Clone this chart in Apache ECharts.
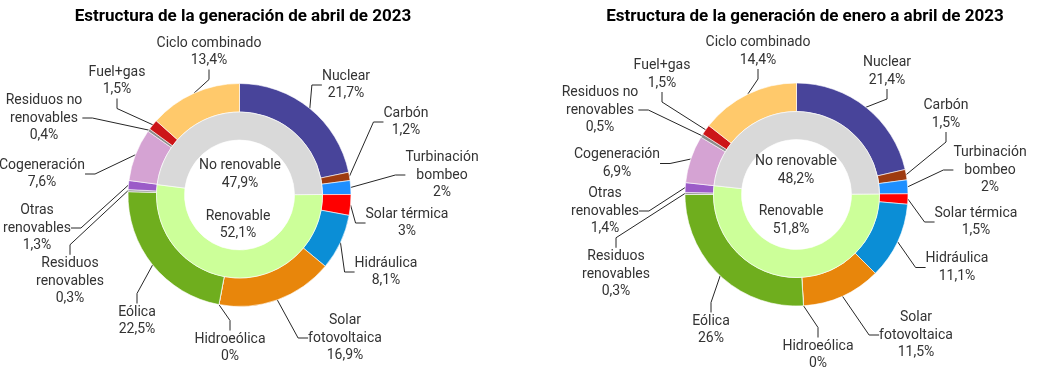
<!DOCTYPE html>
<html>
<head>
<meta charset="utf-8">
<script src="https://cdn.jsdelivr.net/npm/echarts@6/dist/echarts.min.js"></script>
<style>
  html, body { margin: 0; padding: 0; background: #fff; }
  #chart { width: 1038px; height: 373px; }
</style>
</head>
<body>
<div id="chart"></div>
<script>
// ---- Data ----
const categories = ['Nuclear', 'Carbón', 'Turbinación\nbombeo', 'Solar térmica', 'Hidráulica',
  'Solar\nfotovoltaica', 'Hidroeólica', 'Eólica', 'Residuos\nrenovables', 'Otras\nrenovables',
  'Cogeneración', 'Residuos no\nrenovables', 'Fuel+gas', 'Ciclo combinado'];
const aprilValues = [21.7, 1.2, 2, 3, 8.1, 16.9, 0, 22.5, 0.3, 1.3, 7.6, 0.4, 1.5, 13.4];
const ytdValues = [21.4, 1.5, 2, 1.5, 11.1, 11.5, 0, 26, 0.3, 1.4, 6.9, 0.5, 1.5, 14.4];
const innerCategories = ['Renovable', 'No renovable'];
const aprilInner = [52.1, 47.9];
const ytdInner = [51.8, 48.2];
const titles = ['Estructura de la generación de abril de 2023',
  'Estructura de la generación de enero a abril de 2023'];

// ---- Styles / layout ----
const colors = ['#48449A', '#9E3B10', '#1E8FFF', '#FF0000', '#0B8ED6', '#E8860B', '#5B9BD5',
  '#6FAE1E', '#9C9C9C', '#9B5BC8', '#D5A3D3', '#8C8C8C', '#CC1518', '#FFC96B'];
const innerColors = ['#CCFF99', '#D9D9D9'];
const leftLabelPos = [[346, 85], [406, 122], [442, 175], [407, 223], [386, 272], [345, 338],
  [230, 348], [137, 321], [70, 281], [37, 228], [42, 174], [44, 118], [117, 81], [209, 52]];
const rightLabelPos = [[887, 71.5], [946, 114.5], [990, 170], [976, 222], [957, 267.5], [916, 335],
  [818, 355], [711, 330], [616, 274], [605, 211], [617, 163.5], [600, 110], [662, 74.5], [758, 51.5]];
const leftInnerPos = [[238, 225], [240, 174.5]];
const rightInnerPos = [[791, 220.5], [796, 170.5]];
const centers = [[239.5, 195], [796.5, 194.5]];
const FONT = 'Roboto';

function fmt(v) { return String(v).replace('.', ',') + '%'; }

function outerSeries(values, center, pos) {
  return {
    type: 'pie', center: center, radius: [83, 111.5], startAngle: 90, clockwise: true,
    avoidLabelOverlap: false, animation: false, silent: true,
    itemStyle: { borderColor: '#ffffff', borderWidth: 0.6 },
    label: {
      show: true, position: 'outside', formatter: p => p.name + '\n' + fmt(p.value),
      fontFamily: FONT, fontSize: 14, lineHeight: 17.5, color: '#333333', align: 'center'
    },
    labelLine: { show: true, length: 8, length2: 10, smooth: false,
      lineStyle: { color: '#262626', width: 1 } },
    labelLayout: p => ({ x: pos[p.dataIndex][0], y: pos[p.dataIndex][1], align: 'center', verticalAlign: 'middle' }),
    data: values.map((v, i) => ({ name: categories[i], value: v, itemStyle: { color: colors[i] } }))
  };
}

function innerSeries(values, outerValues, center, pos) {
  const before = outerValues[0] + outerValues[1] + outerValues[2];
  return {
    type: 'pie', center: center, radius: [55, 83], startAngle: 90 - 3.6 * before, clockwise: true,
    avoidLabelOverlap: false, animation: false, silent: true,
    itemStyle: { borderColor: '#ffffff', borderWidth: 0.6 },
    label: {
      show: true, position: 'outside', formatter: p => p.name + '\n' + fmt(p.value),
      fontFamily: FONT, fontSize: 14, lineHeight: 17.5, color: '#333333', align: 'center'
    },
    labelLine: { show: false },
    labelLayout: p => ({ x: pos[p.dataIndex][0], y: pos[p.dataIndex][1], align: 'center', verticalAlign: 'middle' }),
    data: values.map((v, i) => ({ name: innerCategories[i], value: v, itemStyle: { color: innerColors[i] } }))
  };
}

const chart = echarts.init(document.getElementById('chart'), null, { renderer: 'canvas' });
chart.setOption({
  animation: false,
  backgroundColor: '#ffffff',
  title: [
    { text: titles[0], left: 238, top: 3, textAlign: 'center',
      textStyle: { fontFamily: 'Roboto', fontWeight: 'bold', fontSize: 17, color: '#000' } },
    { text: titles[1], left: 800, top: 3, textAlign: 'center',
      textStyle: { fontFamily: 'Roboto', fontWeight: 'bold', fontSize: 17, color: '#000' } }
  ],
  series: [
    outerSeries(aprilValues, centers[0], leftLabelPos),
    innerSeries(aprilInner, aprilValues, centers[0], leftInnerPos),
    outerSeries(ytdValues, centers[1], rightLabelPos),
    innerSeries(ytdInner, ytdValues, centers[1], rightInnerPos)
  ]
});
</script>
</body>
</html>
